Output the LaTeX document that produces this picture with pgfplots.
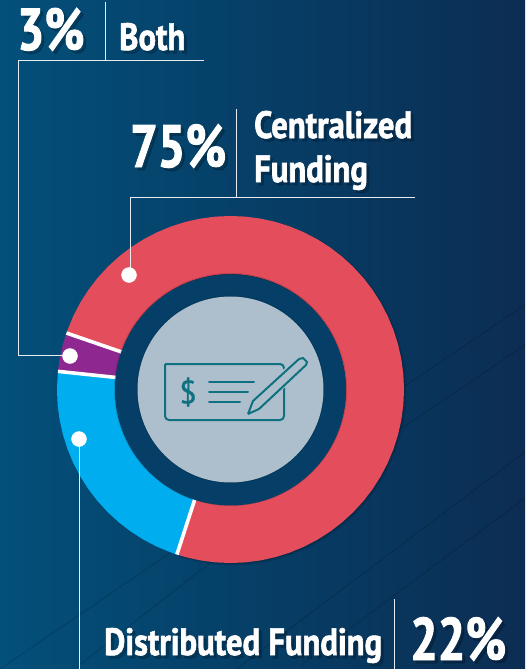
\documentclass[border=0pt]{standalone}
\usepackage{pgfplots}
\usepackage{pgfplotstable}
\pgfplotsset{compat=1.18}
\usepgfplotslibrary{polar}
\usepackage{fontspec}
\setmainfont{PT Sans}
\newfontfamily\cond[FakeStretch=0.86,FakeBold=1.6]{PT Sans Bold}
\newfontfamily\condnum[FakeStretch=0.81,FakeBold=1.6]{PT Sans Bold}
\newfontfamily\dollarfont[FakeBold=1]{PT Sans}
\definecolor{bgl}{HTML}{03507A}
\definecolor{bgm}{HTML}{063E66}
\definecolor{bgr}{HTML}{0C2D53}
\definecolor{ringred}{HTML}{E44D5C}
\definecolor{ringpurple}{HTML}{8E278F}
\definecolor{ringblue}{HTML}{00AEEF}
\definecolor{hole}{HTML}{053F67}
\definecolor{disc}{HTML}{ADBFCC}
\definecolor{icon}{HTML}{0F7180}
\definecolor{leader}{HTML}{E6ECF0}

% ring segments, angle (deg) and radius (px)
\pgfplotstableread{
a r
161 144.5
155 144.5
150 144.5
145 144.5
140 144.5
135 144.5
130 144.5
125 144.5
120 144.5
115 144.5
110 144.5
105 144.5
100 144.5
95 144.5
90 144.5
85 144.5
80 144.5
75 144.5
70 144.5
65 144.5
60 144.5
55 144.5
50 144.5
45 144.5
40 144.5
35 144.5
30 144.5
25 144.5
20 144.5
15 144.5
10 144.5
5 144.5
0 144.5
-5 144.5
-10 144.5
-15 144.5
-20 144.5
-25 144.5
-30 144.5
-35 144.5
-40 144.5
-45 144.5
-50 144.5
-55 144.5
-60 144.5
-65 144.5
-70 144.5
-75 144.5
-80 144.5
-85 144.5
-90 144.5
-95 144.5
-100 144.5
-105 144.5
-108 144.5
}\redarc
\pgfplotstableread{
a r
161 144.5
165 144.5
170 144.5
174 144.5
}\purplearc
\pgfplotstableread{
a r
174 144.5
180 144.5
185 144.5
190 144.5
195 144.5
200 144.5
205 144.5
210 144.5
215 144.5
220 144.5
225 144.5
230 144.5
235 144.5
240 144.5
245 144.5
250 144.5
252 144.5
}\bluearc

% text with a soft shadow, pixel position of the left end of the baseline
\newcommand{\lbl}[5][\cond]{%
  \node[anchor=base west,inner sep=0pt,text=black,opacity=0.2,font=#1\fontsize{#4}{#4}\selectfont] at (axis cs:#2+3,#3+3) {#5};
  \node[anchor=base west,inner sep=0pt,text=white,font=#1\fontsize{#4}{#4}\selectfont] at (axis cs:#2,#3) {#5};
}

\begin{document}
\begin{tikzpicture}[x=1pt,y=1pt]
\clip (0,0) rectangle (525,669);
\shade[left color=bgl,right color=bgr,middle color=bgm] (0,0) rectangle (525,669);

% canvas axis in image pixels: faint lines behind the ring
\begin{axis}[at={(0,0)},anchor=south west,width=525pt,height=669pt,scale only axis,
  xmin=0,xmax=525,ymin=0,ymax=669,y dir=reverse,hide axis,clip=false]
\addplot[black,opacity=0.16,line width=0.9pt] coordinates {(0,669) (170,553) (300,465)};
\addplot[black,opacity=0.16,line width=0.9pt] coordinates {(77,667) (210,563)};
\addplot[black,opacity=0.16,line width=0.9pt] coordinates {(237,669) (345,587) (525,452)};
\addplot[black,opacity=0.16,line width=0.9pt] coordinates {(300,666) (388,600) (525,498)};
\addplot[black,opacity=0.16,line width=0.9pt] coordinates {(340,470) (402,428) (525,345)};
\addplot[black,opacity=0.16,line width=0.9pt] coordinates {(340,430) (403,387) (525,305)};
\end{axis}

% donut
\begin{polaraxis}[at={(230.5,279.5)},anchor=center,width=400pt,height=400pt,scale only axis,
  ymin=0,ymax=200,hide axis,clip=false]
% shadow under the ring
\addplot[black,opacity=0.10,line width=60pt,no markers,forget plot,xshift=1.5pt,yshift=-1.5pt] table[x=a,y=r] {\redarc};
\addplot[black,opacity=0.14,line width=58.5pt,no markers,forget plot,xshift=0.8pt,yshift=-0.8pt] table[x=a,y=r] {\redarc};
\addplot[ringred,line width=58pt,no markers] table[x=a,y=r] {\redarc};
\addplot[ringblue,line width=58pt,no markers] table[x=a,y=r] {\bluearc};
\addplot[ringpurple,line width=58pt,no markers] table[x=a,y=r] {\purplearc};
% white gaps between the segments
\addplot[white,line width=3.6pt,no markers] coordinates {(161,115.5) (161,173.5)};
\addplot[white,line width=3.6pt,no markers] coordinates {(174,115.5) (174,173.5)};
\addplot[white,line width=3.6pt,no markers] coordinates {(252,115.5) (252,173.5)};
\end{polaraxis}

\fill[black,opacity=0.15] (230.5,279.5) circle (116.5);
\fill[hole] (230.5,279) circle (115.5);
\fill[black,opacity=0.12] (230.5,279.5) circle (94);
\fill[disc] (230.5,279.5) circle (93);

% icon, leaders and labels
\begin{axis}[at={(0,0)},anchor=south west,width=525pt,height=669pt,scale only axis,
  xmin=0,xmax=525,ymin=0,ymax=669,y dir=reverse,hide axis,clip=false]
\addplot[icon,line width=2pt,rounded corners=4pt] coordinates {(165,364) (284,364) (284,420) (165,420) (165,364)};
\addplot[disc,fill=disc,line width=5pt,line join=round] coordinates {(247,414) (252,401) (300,358) (307,362) (259,409) (247,414)};
\addplot[icon,line width=2pt,line join=round] coordinates {(248,414) (253,401) (299,359) (303,358) (307,362) (306,365) (259,409) (248,414)};
\addplot[icon,line width=2pt,line cap=round] coordinates {(209,382) (254,382)};
\addplot[icon,line width=2pt,line cap=round] coordinates {(209,392) (248,392)};
\addplot[icon,line width=2pt,line cap=round] coordinates {(209,402) (240,402)};
\node[text=icon,font=\dollarfont\fontsize{32}{32}\selectfont] at (axis cs:188,392) {\$};

\addplot[leader,line width=1pt] coordinates {(204,61) (18,61) (18,355.5) (70,355.5)};
\addplot[leader,line width=1pt] coordinates {(105,2) (105,61)};
\addplot[leader,line width=1pt] coordinates {(415,197) (130,197) (130,275)};
\addplot[leader,line width=1pt] coordinates {(236.5,109) (236.5,197)};
\addplot[leader,line width=1pt] coordinates {(79,669) (79,439)};
\addplot[leader,line width=1pt] coordinates {(394.5,599) (394.5,669)};
\addplot[only marks,mark=*,mark size=7.5pt,white,mark options={draw=white,fill=white}] coordinates {(70,356) (79,439) (129,275)};

\lbl[\condnum]{17}{50}{59}{3\%}
\lbl{119}{50}{38}{Both}
\lbl[\condnum]{130}{167}{60}{75\%}
\lbl{254}{138}{38}{Centralized}
\lbl{254}{182}{38}{Funding}
\lbl{104}{655}{38}{Distributed Funding}
\lbl[\condnum]{410}{660}{60}{22\%}
\end{axis}
\end{tikzpicture}
\end{document}
